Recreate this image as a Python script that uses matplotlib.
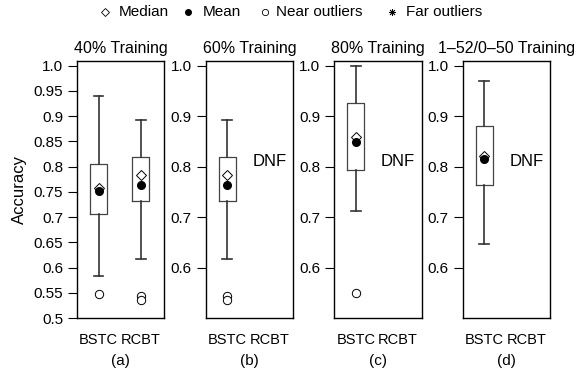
import matplotlib
matplotlib.use("Agg")
import matplotlib.pyplot as plt
from matplotlib.lines import Line2D

plt.rcParams['font.family'] = ['Liberation Sans', 'DejaVu Sans']

# Box statistics per panel: [BSTC, RCBT]; None means the method did not finish
methods = ["BSTC", "RCBT"]
panel_titles = ["40% Training", "60% Training", "80% Training", "1\u201352/0\u201350 Training"]
panel_tags = ["(a)", "(b)", "(c)", "(d)"]

whisker_low = [[0.584, 0.617], [0.617, None], [0.713, None], [0.647, None]]
quart_low   = [[0.706, 0.731], [0.731, None], [0.793, None], [0.763, None]]
medians     = [[0.758, 0.784], [0.784, None], [0.858, None], [0.822, None]]
means       = [[0.751, 0.764], [0.764, None], [0.849, None], [0.815, None]]
quart_high  = [[0.806, 0.820], [0.820, None], [0.927, None], [0.881, None]]
whisker_high = [[0.939, 0.892], [0.892, None], [1.000, None], [0.970, None]]
near_outliers = [[[0.548], [0.544, 0.536]], [[0.544, 0.536], None],
                 [[0.550], None], [[], None]]

ticks_a = [0.5, 0.55, 0.6, 0.65, 0.7, 0.75, 0.8, 0.85, 0.9, 0.95, 1.0]
tick_labels_a = ["0.5", "0.55", "0.6", "0.65", "0.7", "0.75", "0.8", "0.85", "0.9", "0.95", "1.0"]
ticks_other = [0.6, 0.7, 0.8, 0.9, 1.0]
tick_labels_other = ["0.6", "0.7", "0.8", "0.9", "1.0"]

W, H = 579, 374
fig = plt.figure(figsize=(W / 100, H / 100), dpi=100)

axes_left_px = [77, 205.7, 334.3, 462.7]
axes_width_px = 87.5
axes_top_px, axes_bottom_px = 61, 318

line_col = "#333333"
box_col = "#444444"

for i in range(4):
    ax = fig.add_axes([axes_left_px[i] / W, 1 - axes_bottom_px / H,
                       axes_width_px / W, (axes_bottom_px - axes_top_px) / H])
    stats, pos = [], []
    for j in range(2):
        if whisker_low[i][j] is None:
            continue
        stats.append(dict(whislo=whisker_low[i][j], q1=quart_low[i][j],
                          med=medians[i][j], q3=quart_high[i][j],
                          whishi=whisker_high[i][j],
                          fliers=near_outliers[i][j]))
        pos.append(j + 1)
    ax.bxp(stats, positions=pos, widths=0.4, showmeans=False,
           boxprops=dict(color=box_col, linewidth=0.9),
           whiskerprops=dict(color=line_col, linewidth=1.2),
           capprops=dict(color=line_col, linewidth=1.2),
           capwidths=0.23,
           medianprops=dict(linewidth=0),
           flierprops=dict(marker="o", markerfacecolor="white",
                           markeredgecolor="black", markersize=6,
                           markeredgewidth=0.7))
    for j in range(2):
        if medians[i][j] is None:
            ax.text(j + 1, 0.81, "DNF", ha="center", va="center", fontsize=12)
            continue
        ax.plot([j + 1], [medians[i][j]], marker="D", markersize=5.5,
                markerfacecolor="white", markeredgecolor="black",
                markeredgewidth=0.7, linestyle="none", zorder=4)
        ax.plot([j + 1], [means[i][j]], marker="o", markersize=5.5,
                color="black", linestyle="none", zorder=5)

    ax.set_xlim(0.49, 2.56)
    ax.set_ylim(0.5, 1.0093)
    if i == 0:
        ax.set_yticks(ticks_a, tick_labels_a)
        ax.set_ylabel("Accuracy", fontsize=12, labelpad=5)
    else:
        ax.set_yticks(ticks_other, tick_labels_other)
    ax.set_xticks([1, 2], methods)
    ax.tick_params(axis="y", direction="out", length=6.5, width=0.8,
                   pad=3.5, labelsize=11)
    ax.tick_params(axis="x", length=0, pad=10.5, labelsize=10.5)
    for s in ax.spines.values():
        s.set_linewidth(1.0)
    ax.set_title(panel_titles[i], fontsize=11.5, pad=6)
    ax.set_xlabel(panel_tags[i], fontsize=11, labelpad=5)

# Legend row along the top
ly = 1 - 12 / H
legend_items = [
    (105, dict(marker="D", markersize=4, markerfacecolor="white",
               markeredgecolor="black", markeredgewidth=0.6), 119, "Median"),
    (188, dict(marker="o", markersize=4, color="black"), 203, "Mean"),
    (265, dict(marker="o", markersize=4.5, markerfacecolor="white",
               markeredgecolor="black", markeredgewidth=0.6), 276, "Near outliers"),
    (392, dict(marker=(8, 2, 0), markersize=5, color="black",
               markeredgewidth=0.6), 406, "Far outliers"),
]
for mx, mstyle, tx, label in legend_items:
    fig.add_artist(Line2D([mx / W], [ly], transform=fig.transFigure,
                          linestyle="none", **mstyle))
    fig.text(tx / W, ly, label, ha="left", va="center", fontsize=11)

fig.savefig("out.png", dpi=100)
